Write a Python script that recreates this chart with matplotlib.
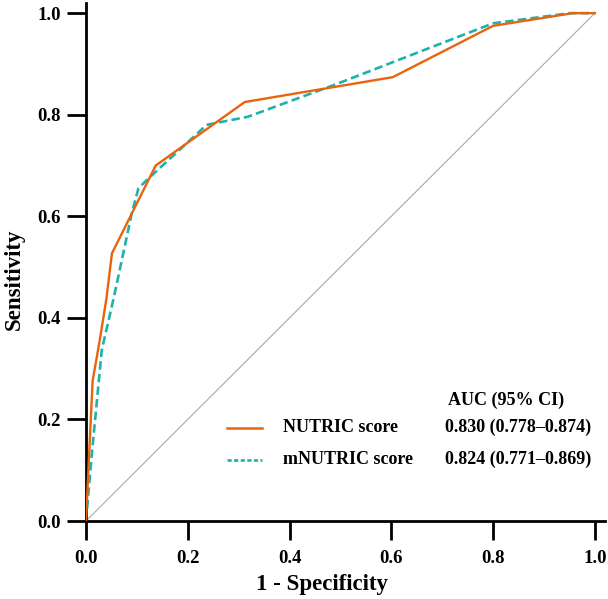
import matplotlib
matplotlib.use("Agg")
import matplotlib.pyplot as plt
from matplotlib.lines import Line2D

# ── Data ────────────────────────────────────────────────────────────────────
nutric_fpr = [0.0, 0.013, 0.026, 0.040, 0.051, 0.137, 0.312, 0.603, 0.800, 0.957, 1.0]
nutric_tpr = [0.0, 0.276, 0.350, 0.437, 0.527, 0.700, 0.825, 0.874, 0.975, 1.000, 1.0]

mnutric_fpr = [0.0, 0.011, 0.031, 0.054, 0.090, 0.103, 0.119, 0.237, 0.318, 0.486, 0.800, 0.951, 1.0]
mnutric_tpr = [0.0, 0.127, 0.337, 0.437, 0.606, 0.655, 0.671, 0.780, 0.796, 0.858, 0.980, 1.000, 1.0]

series_names = ["NUTRIC score", "mNUTRIC score"]
auc_text = ["0.830 (0.778\u20130.874)", "0.824 (0.771\u20130.869)"]
ticks = [0.0, 0.2, 0.4, 0.6, 0.8, 1.0]

ORANGE = "#E8640F"
TEAL = "#1DB3AA"

plt.rcParams["font.family"] = ["Liberation Serif", "DejaVu Serif"]
plt.rcParams["font.weight"] = "bold"

fig = plt.figure(figsize=(6.08, 5.99), dpi=100)
# axes box in pixels: left 86, bottom spine at y=521, 519x518 px
ax = fig.add_axes([86 / 608, 78 / 599, 519 / 608, 518 / 599])

ax.plot([0, 1], [0, 1], color="#A8A8A8", lw=0.8, zorder=1)
ax.plot(mnutric_fpr, mnutric_tpr, color=TEAL, lw=1.9, ls=(0, (3.2, 1.6)), zorder=2)
ax.plot(nutric_fpr, nutric_tpr, color=ORANGE, lw=1.7, zorder=3)

ax.set_xlim(0, 1.02)
ax.set_ylim(0, 1.02)
ax.set_xticks(ticks)
ax.set_yticks(ticks)
ax.set_xticklabels([f"{t:.1f}" for t in ticks], fontsize=13.5, fontweight="bold")
ax.set_yticklabels([f"{t:.1f}" for t in ticks], fontsize=13.5, fontweight="bold")
ax.tick_params(direction="out", length=14, width=2)
ax.tick_params(axis="x", pad=7)
ax.tick_params(axis="y", pad=4)
for s in ["top", "right"]:
    ax.spines[s].set_visible(False)
for s in ["left", "bottom"]:
    ax.spines[s].set_linewidth(2)

ax.set_xlabel("1 - Specificity", fontsize=16.5, fontweight="bold", labelpad=5)
ax.xaxis.label.set_x(0.454)
ax.set_ylabel("Sensitivity", fontsize=16.5, fontweight="bold", labelpad=9)
ax.yaxis.label.set_y(0.467)

# Legend block with AUC column (positions in pixel -> axes fraction)
def px(x, y):
    return (x - 86) / 519, (521 - y) / 518

hx, hy = px(448, 400)
ax.text(hx, hy, "AUC (95% CI)", transform=ax.transAxes, fontsize=13,
        fontweight="bold", va="center", ha="left")
styles = [dict(color=ORANGE, lw=1.8, ls="-"), dict(color=TEAL, lw=1.9, ls=(0, (1.6, 0.9)))]
for i, (name, auc, st) in enumerate(zip(series_names, auc_text, styles)):
    yy = [428, 460][i]
    x0, y0 = px(227, yy)
    x1, _ = px(262, yy)
    ax.add_line(Line2D([x0, x1], [y0, y0], transform=ax.transAxes, **st))
    tx, ty = px(283, yy - 1)
    ax.text(tx, ty, name, transform=ax.transAxes, fontsize=13,
            fontweight="bold", va="center", ha="left")
    ax2x, _ = px(445, yy)
    ax.text(ax2x, ty, auc, transform=ax.transAxes, fontsize=13,
            fontweight="bold", va="center", ha="left")

fig.savefig("out.png", dpi=100)
